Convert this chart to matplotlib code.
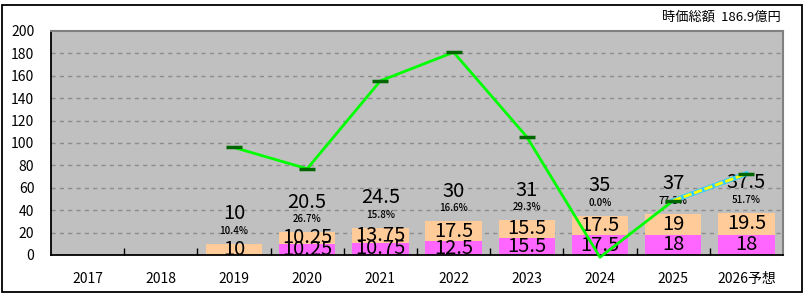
import matplotlib
matplotlib.use("Agg")
import matplotlib.pyplot as plt
import matplotlib.patches as patches
import numpy as np

plt.rcParams['font.family'] = ['Noto Sans CJK JP', 'DejaVu Sans']

years = ['2017', '2018', '2019', '2020', '2021', '2022', '2023', '2024', '2025', '2026予想']
lower = [np.nan, np.nan, 0, 10.25, 10.75, 12.5, 15.5, 17.5, 18, 18]
upper = [np.nan, np.nan, 10, 10.25, 13.75, 17.5, 15.5, 17.5, 19, 19.5]
totals = [np.nan, np.nan, 10, 20.5, 24.5, 30, 31, 35, 37, 37.5]
pct_labels = ['', '', '10.4%', '26.7%', '15.8%', '16.6%', '29.3%', '0.0%', '77.3%', '51.7%']
line_vals = [np.nan, np.nan, 96, 77, 155.5, 181, 105.5, -2, 48.5, 72.5]
yticks = [0, 20, 40, 60, 80, 100, 120, 140, 160, 180, 200]
title_text = '時価総額  186.9億円'

W, H = 805, 299
fig = plt.figure(figsize=(W / 100, H / 100), dpi=100)
fig.patch.set_facecolor('white')
ax = fig.add_axes([51 / W, (H - 255) / H, 732 / W, 224 / H])
ax.set_facecolor('#C0C0C0')

x = np.arange(len(years))
low = np.nan_to_num(np.array(lower, dtype=float))
up = np.nan_to_num(np.array(upper, dtype=float))
bw = 0.77
ax.bar(x, low, width=bw, color='#FF66FF', zorder=2)
ax.bar(x, up, width=bw, bottom=low, color='#FFCC99', zorder=2)

for i in range(len(years)):
    if np.isnan(totals[i]):
        continue
    if low[i] > 0:
        ax.text(x[i], low[i] / 2, f"{lower[i]:g}", ha='center', va='center', fontsize=14.5, zorder=4)
    if up[i] > 0:
        ax.text(x[i], low[i] + up[i] / 2, f"{upper[i]:g}", ha='center', va='center', fontsize=14.5, zorder=4)
    top = low[i] + up[i]
    ax.annotate(f"{totals[i]:g}", (x[i], top), xytext=(0, 30), textcoords='offset pixels',
                ha='center', va='center', fontsize=14.5, zorder=4)
    ax.annotate(pct_labels[i], (x[i], top), xytext=(0, 13), textcoords='offset pixels',
                ha='center', va='center', fontsize=7, fontweight='medium', zorder=4)

lv = np.array(line_vals, dtype=float)
ax.plot(x[:9], lv[:9], color='#00FF00', lw=2, zorder=5, clip_on=False)
ax.plot(x[8:10], lv[8:10], color='#33CCFF', lw=3.5, zorder=5)
ax.plot(x[8:10], lv[8:10], color='#FFFF00', lw=2, ls=(0, (3, 1)), zorder=6)
ax.plot(x, lv, ls='none', marker='_', markersize=11, mew=2.5, color='#006600', zorder=7)

ax.set_xlim(-0.5, len(years) - 0.5)
ax.set_ylim(0, 200)
ax.set_yticks(yticks)
ax.set_yticklabels([str(v) for v in yticks], fontsize=10)
ax.tick_params(axis='y', length=0, pad=12)
ax.set_xticks(x)
ax.set_xticklabels(years, fontsize=10)
ax.tick_params(axis='x', which='major', length=0, pad=12)
ax.set_xticks(np.arange(0.5, len(years) - 0.5, 1), minor=True)
ax.tick_params(axis='x', which='minor', direction='in', length=5, width=1, color='black')

for v in yticks[1:-1]:
    ax.axhline(v, color='#8C8C8C', lw=1, ls=(0, (3, 3)), zorder=1)

ax.spines['top'].set_color('#808080')
ax.spines['right'].set_color('#808080')
ax.spines['left'].set_color('black')
ax.spines['bottom'].set_color('black')
ax.spines['top'].set_linewidth(1.5)
ax.spines['right'].set_linewidth(1.5)
ax.spines['bottom'].set_linewidth(1.3)
ax.spines['left'].set_linewidth(1.3)

fig.text(781 / W, (H - 17) / H, title_text, ha='right', va='center', fontsize=9.5)

border = patches.Rectangle((1.5 / W, (H - 292) / H), 800 / W, 287 / H, transform=fig.transFigure,
                           fill=False, edgecolor='black', lw=1.3)
fig.patches.append(border)

fig.savefig('out.png', dpi=100, facecolor='white')
